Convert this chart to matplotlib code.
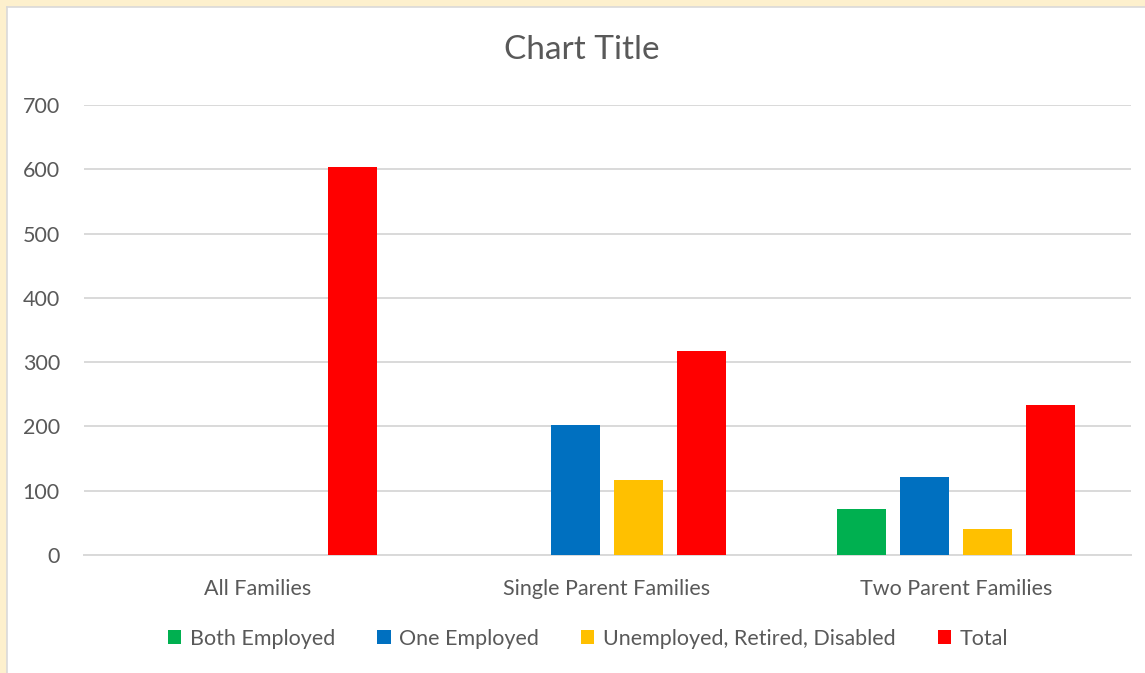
import matplotlib
matplotlib.use("Agg")
import matplotlib.pyplot as plt
import numpy as np
from matplotlib.patches import Patch, Rectangle

# data
categories = ["All Families", "Single Parent Families", "Two Parent Families"]
series_names = ["Both Employed", "One Employed", "Unemployed, Retired, Disabled", "Total"]
both_employed = [0, 0, 72]
one_employed = [0, 202, 121]
unemployed = [0, 116, 40]
total = [603, 318, 234]
y_ticks = [0, 100, 200, 300, 400, 500, 600, 700]

colors = ["#00B050", "#0070C0", "#FFC000", "#FF0000"]
text_col = "#595959"
grid_col = "#D9D9D9"

plt.rcParams["font.family"] = ["Lato", "DejaVu Sans"]

W, H = 1145, 673
fig = plt.figure(figsize=(W / 100, H / 100), dpi=100)
fig.patch.set_facecolor("#FDF0CD")
# white chart area with thin grey border on the left/top
fig.patches.append(Rectangle((7 / W, 0), 1, 1 - 7 / H, transform=fig.transFigure,
                             facecolor="white", edgecolor="none", zorder=-5))
fig.add_artist(plt.Line2D([6.5 / W, 6.5 / W], [0, 1 - 6.5 / H], color="#D9D9D9", lw=1.2, zorder=-4))
fig.add_artist(plt.Line2D([6.5 / W, 1], [1 - 6.5 / H, 1 - 6.5 / H], color="#D9D9D9", lw=1.2, zorder=-4))

left, right, top, bottom = 83.5, 1130.5, 105, 555
ax = fig.add_axes([left / W, 1 - bottom / H, (right - left) / W, (bottom - top) / H])
ax.set_facecolor("none")

x = np.arange(len(categories))
step = 0.181
width = 0.14
data = [both_employed, one_employed, unemployed, total]
for i, (name, vals) in enumerate(zip(series_names, data)):
    ax.bar(x + (i - 1.5) * step, vals, width, color=colors[i], label=name, zorder=3)

ax.set_xlim(-0.5, len(categories) - 0.5)
ax.set_ylim(0, 700)
ax.set_yticks(y_ticks)
ax.set_xticks(x)
ax.set_xticklabels(categories)
ax.yaxis.grid(True, color=grid_col, lw=1.4, zorder=0)
ax.tick_params(axis="both", length=0, labelsize=15.5, colors=text_col)
ax.tick_params(axis="y", pad=17)
ax.tick_params(axis="x", pad=17)
for s in ["top", "right", "left"]:
    ax.spines[s].set_visible(False)
ax.spines["bottom"].set_color(grid_col)
ax.spines["bottom"].set_linewidth(1.4)
ax.spines["bottom"].set_zorder(1)

fig.text(582 / W, 1 - 50 / H, "Chart Title", ha="center", va="center",
         fontsize=24, color=text_col)

handles = [Patch(facecolor=c, edgecolor="none") for c in colors]
fig.legend(handles, series_names, loc="center", bbox_to_anchor=(588 / W, 1 - 639 / H),
           ncol=4, frameon=False, fontsize=15.5, labelcolor=text_col,
           handlelength=0.62, handleheight=0.62, handletextpad=0.4, columnspacing=1.95)

fig.savefig("out.png", dpi=100)
